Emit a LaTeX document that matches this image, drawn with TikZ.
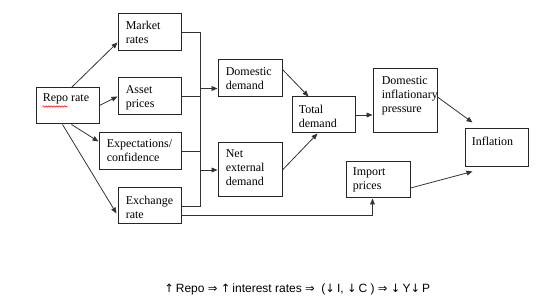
\documentclass[tikz,border=0pt]{standalone}
\usepackage{fontspec}
\setmainfont{Liberation Serif}
\newfontfamily\fsans{Liberation Sans}
\newfontfamily\farr{DejaVu Sans}
\newcommand\myar[1]{{\farr\fontsize{8.6}{10}\selectfont #1}}
\usetikzlibrary{fit,calc,arrows.meta,decorations.pathmorphing}
\begin{document}
\begin{tikzpicture}[x=0.75pt,y=-0.75pt,
  box/.style={draw=black!85, line width=0.75pt, inner sep=0pt},
  txt/.style={anchor=north west, inner sep=0pt, font=\fontsize{9}{10.5}\selectfont, align=left},
  conn/.style={draw=black!80, line width=0.6pt},
  arr/.style={conn, -{Triangle[length=4.5pt,width=3.6pt]}},
  squig/.style={draw=red, line width=0.4pt, decorate, decoration={snake, amplitude=0.5pt, segment length=2pt}},
]
\useasboundingbox (0,0) rectangle (544,306);
% boxes
\node[box, fit={(36,88)(99,124)}] (repo) {};
\node[box, fit={(118,14)(181,51)}] (market) {};
\node[box, fit={(118,78)(181,115)}] (asset) {};
\node[box, fit={(99,133)(181,170)}] (expect) {};
\node[box, fit={(118,188)(181,224)}] (exch) {};
\node[box, fit={(218,60)(282,97)}] (dd) {};
\node[box, fit={(218,143)(282,197)}] (net) {};
\node[box, fit={(292,97)(355,133)}] (total) {};
\node[box, fit={(373,69)(437,133)}] (dip) {};
\node[box, fit={(465,129)(528,167)}] (infl) {};
\node[box, fit={(346,162)(410,198)}] (imp) {};
% texts
\node[txt] (repot) at ($(repo.north west)+(7,6)$) {Repo rate};
\node[txt] (markett) at ($(market.north west)+(8,7)$) {Market\\rates};
\node[txt] (assett) at ($(asset.north west)+(8,8)$) {Asset\\prices};
\node[txt] (expectt) at ($(expect.north west)+(8,7)$) {Expectations/\\confidence};
\node[txt] (excht) at ($(exch.north west)+(8,8)$) {Exchange\\rate};
\node[txt] (ddt) at ($(dd.north west)+(8,8)$) {Domestic\\demand};
\node[txt] (nett) at ($(net.north west)+(8,7)$) {Net\\external\\demand};
\node[txt] (totalt) at ($(total.north west)+(7,8)$) {Total\\demand};
\node[txt] (dipt) at ($(dip.north west)+(9,8)$) {Domestic\\inflationary\\pressure};
\node[txt] (inflt) at ($(infl.north west)+(7,8)$) {Inflation};
\node[txt] (impt) at ($(imp.north west)+(7,6)$) {Import\\prices};
\draw[squig] ($(repot.south west)+(0,2)$) -- +(25,0);
% arrows from repo
\draw[arr] ($(repo.north west)+(36,0)$) -- ($(market.south west)+(0,-9)$);
\draw[arr] ($(repo.north east)+(0,18)$) -- ($(asset.north west)+(0,19)$);
\draw[arr] ($(repo.south west)+(36,0)$) -- ($(expect.north west)+(0,9)$);
\draw[arr] ($(repo.south west)+(27,0)$) -- ($(exch.north west)+(-1,26)$);
% bus
\coordinate (busT) at (200,32.5);
\coordinate (busB) at (200,206);
\draw[conn] (market.east) -- (busT) -- (busB) -- (exch.east);
\draw[conn] (asset.east) -- (asset.east -| busT);
\draw[conn] (expect.east) -- (expect.east -| busT);
\coordinate (ddin) at ($(dd.south west)+(0,-9)$);
\draw[arr] (ddin -| busT) -- (ddin);
\draw[arr] (net.west -| busT) -- (net.west);
% demand to total
\draw[arr] ($(dd.north east)+(0,10)$) -- ($(total.north west)+(17,0)$);
\draw[arr] (net.east) -- ($(total.south west)+(26,0)$);
\draw[arr] (total.east) -- (total.east -| dip.west);
\draw[arr] ($(dip.east)+(0,-4)$) -- ($(infl.north west)+(8,-6)$);
\draw[arr] ($(imp.east)+(0,8)$) -- ($(infl.south west)+(8,4)$);
\draw[arr] ($(exch.south east)+(0,-9)$) -| ($(imp.south west)+(27,0)$);
% formula
\node[anchor=base west, inner sep=0pt, font=\fsans\fontsize{9}{11}\selectfont] (eq) at (164,293)
  {\myar{↑}\,Repo \myar{⇒} \myar{↑}\,interest rates \myar{⇒}\ \ (\myar{↓}\,I, \myar{↓}\,C ) \myar{⇒} \myar{↓}\,Y\myar{↓}\,P};
\end{tikzpicture}
\end{document}
